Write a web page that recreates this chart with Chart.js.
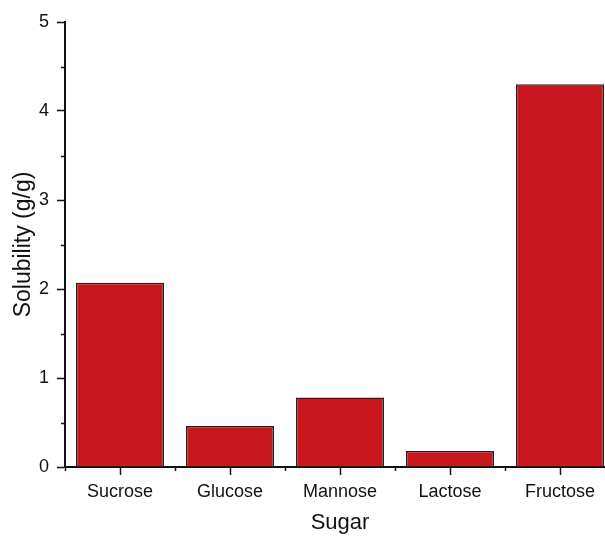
<!DOCTYPE html>
<html>
<head>
<meta charset="utf-8">
<script src="https://cdn.jsdelivr.net/npm/chart.js@4/dist/chart.umd.min.js"></script>
<style>
  html, body { margin: 0; padding: 0; overflow: hidden; background: #fff; }
  #wrap { width: 640px; height: 536px; }
</style>
</head>
<body>
<div id="wrap"><canvas id="c" width="640" height="536"></canvas></div>
<script>
// Solubility of common sugars in water (g sugar per g water)
const sugars = ['Sucrose', 'Glucose', 'Mannose', 'Lactose', 'Fructose'];
const solubility = [2.07, 0.46, 0.78, 0.18, 4.30];
const yMajorTicks = [0, 1, 2, 3, 4, 5];
const yMinorTicks = [0.5, 1.5, 2.5, 3.5, 4.5];

const FONT = "'Liberation Sans', Arial, sans-serif";
const INK = '#111';

// Short minor tick marks: half-unit marks on the value axis, category
// boundaries on the sugar axis.
const minorTicks = {
  id: 'minorTicks',
  afterDraw(chart) {
    const { ctx, scales: { x, y }, chartArea } = chart;
    ctx.save();
    ctx.strokeStyle = INK;
    ctx.lineWidth = 1.5;
    ctx.beginPath();
    yMinorTicks.forEach(v => {
      const py = Math.round(y.getPixelForValue(v)) + 0.5;
      ctx.moveTo(chartArea.left, py);
      ctx.lineTo(chartArea.left - 4, py);
    });
    const half = (x.getPixelForValue(1) - x.getPixelForValue(0)) / 2;
    for (let i = 0; i <= sugars.length; i++) {
      const px = Math.round(x.getPixelForValue(i) - half) + 0.5;
      ctx.moveTo(px, chartArea.bottom);
      ctx.lineTo(px, chartArea.bottom + 4);
    }
    ctx.stroke();
    ctx.restore();
  }
};

new Chart(document.getElementById('c'), {
  type: 'bar',
  data: {
    labels: sugars,
    datasets: [{
      data: solubility,
      backgroundColor: '#C8171D',
      borderColor: '#222',
      borderWidth: 1.5,
      barPercentage: 0.8,
      categoryPercentage: 1.0
    }]
  },
  options: {
    responsive: false,
    animation: false,
    layout: { padding: { top: 22, right: 25, left: 0, bottom: 0 } },
    plugins: { legend: { display: false }, tooltip: { enabled: false } },
    scales: {
      x: {
        offset: true,
        grid: {
          offset: false,
          drawOnChartArea: false,
          drawTicks: true,
          tickLength: 8,
          tickWidth: 1.5,
          tickColor: INK
        },
        border: { display: true, color: INK, width: 2 },
        ticks: {
          color: INK,
          padding: 6,
          maxRotation: 0,
          font: { family: FONT, size: 18 }
        },
        title: {
          display: true,
          text: 'Sugar',
          color: INK,
          padding: { top: 0, bottom: 0 },
          font: { family: FONT, size: 22 }
        },
        afterFit(scale) { scale.height = 69; }
      },
      y: {
        min: 0,
        max: 5,
        afterBuildTicks(scale) {
          scale.ticks = yMajorTicks.map(v => ({ value: v }));
        },
        grid: {
          drawOnChartArea: false,
          drawTicks: true,
          tickLength: 8,
          tickWidth: 1.5,
          tickColor: INK
        },
        border: { display: true, color: INK, width: 2 },
        ticks: {
          color: INK,
          padding: 8,
          font: { family: FONT, size: 18 }
        },
        title: {
          display: true,
          text: 'Solubility (g/g)',
          color: INK,
          padding: { top: 10, bottom: 0 },
          font: { family: FONT, size: 23 }
        },
        afterFit(scale) { scale.width = 65; }
      }
    }
  },
  plugins: [minorTicks]
});
</script>
</body>
</html>
